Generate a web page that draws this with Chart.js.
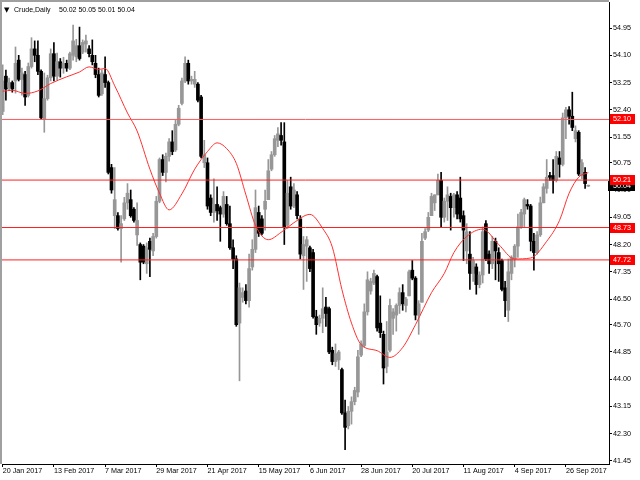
<!DOCTYPE html>
<html>
<head>
<meta charset="utf-8">
<script src="https://cdn.jsdelivr.net/npm/chart.js@4.4.0/dist/chart.umd.min.js"></script>
<style>
  html, body { margin: 0; padding: 0; background: #fff; }
  canvas { display: block; }
</style>
</head>
<body>
<canvas id="chart" width="640" height="480"></canvas>
<script>
// Crude, daily bars 20 Jan 2017 .. 5 Oct 2017
const symbolName = 'Crude,Daily';

const opens = [
  52.35, 53.45, 53.10, 53.25, 53.30, 53.95, 53.35, 53.50, 52.85, 53.75,
  54.30, 54.10, 53.60, 52.10, 52.75, 53.40, 54.15, 53.45, 53.90, 53.70,
  53.85, 53.70, 54.10, 54.05, 54.40, 54.20, 54.45, 54.30, 54.10, 53.85,
  53.50, 52.90, 53.50, 53.25, 50.60, 49.10, 49.10, 48.70, 49.00, 49.50,
  49.60, 49.30, 48.50, 48.20, 48.15, 47.60, 48.30, 48.00, 48.45, 49.55,
  50.85, 50.45, 50.95, 51.40, 51.15, 51.95, 52.60, 53.30, 53.85, 53.30,
  53.20, 53.20, 52.80, 50.75, 50.75, 49.65, 49.20, 49.45, 49.35, 49.15,
  49.45, 48.85, 48.10, 47.75, 45.75, 46.55, 46.75, 46.45, 47.50, 48.05,
  49.20, 49.00, 49.30, 49.60, 50.55, 51.00, 51.45, 51.60, 51.40, 48.80,
  50.00, 49.40, 49.75, 49.00, 47.85, 48.15, 48.10, 47.95, 45.95, 45.75,
  45.90, 46.25, 46.20, 44.90, 44.55, 44.60, 44.30, 42.95, 42.55, 43.00,
  43.30, 43.60, 44.75, 45.05, 46.10, 46.75, 47.00, 47.20, 45.75, 45.40,
  44.40, 44.90, 45.90, 46.00, 46.30, 46.70, 46.30, 46.60, 47.40, 47.15,
  46.00, 46.40, 48.40, 48.65, 49.10, 49.50, 49.75, 50.20, 49.05, 49.55,
  49.70, 49.35, 49.75, 49.65, 49.10, 48.00, 47.90, 47.30, 47.50, 46.95,
  47.25, 48.85, 47.90, 47.60, 48.30, 47.95, 47.70, 46.85, 46.15, 47.30,
  47.75, 48.15, 48.75, 49.15, 49.45, 49.40, 48.30, 47.95, 48.50, 49.50,
  49.95, 50.35, 50.35, 50.20, 50.90, 50.70, 52.15, 52.40, 52.20, 51.50,
  51.70, 50.35, 50.45, 50.02
];
const highs = [
  53.80, 53.64, 53.39, 53.30, 54.36, 54.10, 53.70, 53.60, 53.86, 54.65,
  54.55, 54.55, 53.65, 53.55, 53.48, 54.30, 54.50, 54.17, 54.00, 54.04,
  53.95, 54.20, 55.04, 54.60, 54.98, 54.58, 54.73, 54.40, 54.58, 54.10,
  53.70, 53.65, 54.05, 53.30, 50.70, 50.60, 49.20, 49.10, 49.67, 50.10,
  49.90, 49.35, 49.50, 48.25, 48.20, 48.25, 48.40, 48.55, 49.70, 50.90,
  51.00, 51.05, 51.50, 51.75, 52.08, 52.54, 53.39, 54.05, 53.95, 53.45,
  53.60, 53.25, 52.85, 51.45, 50.90, 49.75, 50.25, 50.00, 49.40, 49.85,
  49.70, 49.40, 48.35, 47.85, 47.00, 46.85, 46.95, 47.90, 48.35, 49.90,
  49.40, 49.10, 49.90, 50.85, 51.10, 51.60, 51.85, 52.00, 52.00, 50.20,
  50.30, 50.10, 49.85, 49.10, 48.45, 48.45, 48.15, 48.05, 46.15, 46.00,
  46.85, 46.55, 46.25, 45.00, 45.10, 44.90, 44.35, 43.35, 43.15, 43.45,
  43.75, 44.90, 45.20, 46.35, 47.35, 47.15, 47.40, 47.25, 46.60, 45.50,
  45.80, 46.50, 46.20, 46.35, 46.85, 46.95, 46.55, 47.40, 47.70, 47.20,
  46.45, 48.55, 48.70, 49.20, 49.80, 49.75, 50.40, 50.45, 49.65, 50.00,
  49.80, 49.80, 49.85, 50.30, 49.25, 48.85, 48.60, 47.80, 47.60, 47.35,
  48.75, 48.95, 48.00, 48.45, 48.40, 48.10, 47.75, 47.05, 47.75, 47.85,
  48.20, 49.15, 49.30, 49.65, 49.60, 49.45, 48.55, 48.60, 49.68, 50.10,
  50.85, 50.45, 50.85, 51.10, 51.10, 52.30, 52.48, 52.50, 52.95, 51.90,
  51.75, 50.85, 50.60, 50.05
];
const lows = [
  52.25, 52.70, 53.00, 52.95, 52.92, 53.30, 52.86, 52.54, 52.80, 53.70,
  53.90, 53.50, 52.10, 51.70, 52.70, 53.30, 53.30, 53.33, 53.42, 53.54,
  53.60, 53.65, 53.95, 53.90, 53.95, 54.15, 54.20, 54.05, 53.80, 53.40,
  52.80, 52.85, 53.10, 50.40, 49.80, 48.70, 48.65, 47.65, 48.95, 49.30,
  49.05, 48.90, 48.17, 47.10, 47.60, 47.30, 47.20, 47.85, 48.40, 49.50,
  50.35, 50.15, 50.80, 51.00, 51.10, 51.90, 52.55, 53.25, 53.20, 53.20,
  53.10, 52.65, 50.90, 50.60, 49.30, 49.10, 48.90, 48.95, 48.30, 49.05,
  48.80, 48.05, 47.45, 45.65, 43.95, 46.40, 46.35, 46.25, 47.40, 47.95,
  48.45, 48.50, 48.65, 49.60, 50.50, 50.95, 51.25, 51.30, 48.20, 48.70,
  49.30, 49.35, 49.00, 47.75, 46.80, 47.05, 47.35, 45.90, 45.40, 45.65,
  45.45, 45.65, 44.80, 44.45, 44.40, 44.30, 42.90, 41.80, 42.45, 42.60,
  43.20, 43.45, 44.70, 45.00, 46.00, 46.65, 46.95, 45.50, 45.30, 43.85,
  44.20, 44.85, 45.40, 45.50, 46.05, 46.15, 46.10, 46.60, 47.10, 45.85,
  45.40, 46.40, 48.35, 48.60, 49.10, 49.26, 49.75, 48.75, 48.90, 48.95,
  48.65, 49.05, 49.00, 48.90, 47.70, 47.60, 46.80, 47.05, 46.65, 46.85,
  47.00, 47.70, 47.30, 47.45, 47.10, 47.05, 46.75, 45.95, 45.80, 47.10,
  47.50, 47.80, 48.70, 48.75, 49.30, 48.00, 47.40, 47.90, 48.45, 49.50,
  49.80, 50.20, 49.80, 50.15, 50.30, 50.65, 51.50, 51.95, 51.75, 51.40,
  50.35, 50.25, 49.95, 50.01
];
const closes = [
  53.30, 53.05, 53.25, 53.05, 53.85, 53.35, 53.55, 52.80, 53.75, 54.30,
  54.10, 53.60, 52.15, 52.75, 53.40, 54.15, 53.45, 53.90, 53.70, 53.85,
  53.70, 54.15, 54.55, 54.40, 54.00, 54.50, 54.55, 54.15, 53.90, 53.50,
  52.85, 53.55, 53.25, 50.45, 49.90, 49.60, 48.70, 48.85, 49.50, 49.80,
  49.10, 48.95, 48.95, 47.65, 47.65, 48.10, 48.05, 48.45, 49.55, 50.85,
  50.45, 50.95, 51.40, 51.10, 51.95, 52.45, 53.30, 53.85, 53.30, 53.35,
  53.35, 52.70, 50.95, 51.00, 49.40, 49.20, 49.45, 49.25, 49.15, 49.70,
  48.85, 48.10, 47.75, 45.70, 46.85, 46.70, 46.45, 47.45, 48.05, 49.35,
  48.55, 48.55, 49.55, 50.50, 51.00, 51.50, 51.65, 51.45, 48.75, 49.80,
  49.40, 49.90, 49.10, 47.90, 48.20, 48.35, 47.45, 45.95, 45.70, 45.90,
  46.20, 46.05, 44.85, 44.55, 44.80, 44.85, 42.95, 42.50, 43.00, 43.30,
  43.65, 44.70, 45.10, 46.10, 47.10, 47.05, 47.30, 45.60, 45.45, 44.35,
  44.85, 46.30, 46.10, 46.30, 46.70, 46.35, 46.50, 47.35, 47.15, 46.00,
  46.35, 48.30, 48.60, 49.05, 49.70, 49.75, 50.20, 49.05, 49.55, 49.75,
  49.35, 49.75, 49.15, 49.00, 48.65, 48.60, 47.30, 47.70, 46.95, 47.25,
  48.60, 47.75, 47.60, 48.30, 48.00, 47.60, 46.80, 46.45, 47.35, 47.80,
  48.15, 48.75, 49.20, 49.60, 49.40, 48.30, 47.95, 48.50, 49.50, 50.00,
  50.30, 50.30, 50.20, 50.95, 50.70, 52.15, 52.40, 52.20, 51.85, 51.75,
  50.40, 50.75, 50.10, 50.04
];

// red moving average, sampled at these bars
const maBars = [0, 3, 7, 11, 15, 20, 24, 27, 30, 32, 35, 39, 42, 46, 49, 52, 56, 60, 64, 67,
  70, 73, 76, 79, 83, 87, 91, 96, 100, 103, 106, 109, 112, 117, 121, 125, 129, 134, 138, 141,
  145, 150, 155, 160, 165, 170, 174, 177, 180, 183];
const maValues = [52.98, 53.01, 52.91, 52.99, 53.22, 53.43, 53.58, 53.74, 53.66, 53.69,
  53.15, 52.30, 51.74, 50.55, 49.80, 49.28, 49.78, 50.55, 51.10, 51.37,
  51.19, 50.73, 49.75, 48.80, 48.35, 48.58, 48.88, 49.14, 48.70, 48.12,
  46.80, 45.75, 45.08, 44.89, 44.68, 44.99, 45.70, 46.70, 47.30, 47.95,
  48.45, 48.68, 48.20, 47.75, 47.78, 48.30, 48.95, 49.80, 50.30, 50.44];

// horizontal levels
const levels = [52.10, 50.21, 48.73, 47.72];
const levelColors = ['#ff5a5a', '#ff2020', '#ff2020', '#ff2020'];

const priceTicks = [41.45, 42.30, 43.15, 44.00, 44.85, 45.70, 46.50, 47.35, 48.20,
  49.05, 49.90, 50.75, 51.55, 52.40, 53.25, 54.10, 54.95];
const tickBars = [0, 16, 32, 48, 64, 80, 96, 112, 128, 144, 160, 176];
const tickLabels = ['20 Jan 2017', '13 Feb 2017', '7 Mar 2017', '29 Mar 2017', '21 Apr 2017',
  '15 May 2017', '6 Jun 2017', '28 Jun 2017', '20 Jul 2017', '11 Aug 2017', '4 Sep 2017', '26 Sep 2017'];

const X_MIN = -0.21875, X_MAX = 189.46875;
const Y_MIN = 41.35625, Y_MAX = 55.7625;

const BULL = '#979797';
const BEAR = '#000000';
const FONT = "'Liberation Sans', Arial, sans-serif";

Chart.defaults.font.family = FONT;
Chart.defaults.font.size = 7.2;
Chart.defaults.color = '#000';

const n = closes.length;
const isBull = closes.map((c, i) => c >= opens[i]);

const wickData = highs.map((h, i) => ({ x: i, y: [lows[i], h] }));
const bodyData = opens.map((o, i) => ({ x: i, y: [Math.min(o, closes[i]), Math.max(o, closes[i])] }));
const maData = maBars.map((b, k) => ({ x: b, y: maValues[k] }));

const levelSets = levels.map((v, k) => ({
  type: 'line',
  data: [{ x: X_MIN, y: v }, { x: X_MAX, y: v }],
  borderColor: levelColors[k],
  borderWidth: 1,
  pointRadius: 0,
  order: 0
}));

const decor = {
  id: 'decor',
  afterDraw(chart) {
    const ctx = chart.ctx;
    const area = chart.chartArea;
    const ys = chart.scales.y;
    ctx.save();

    // window frame, top and left
    ctx.fillStyle = '#a0a0a0';
    ctx.fillRect(0, 0, area.right, 2);
    ctx.fillRect(0, 0, 2, area.bottom);

    // title line
    ctx.fillStyle = '#000';
    ctx.textBaseline = 'middle';
    ctx.textAlign = 'left';
    ctx.font = "7px 'DejaVu Sans'";
    ctx.fillText('▼', 4, 10);
    ctx.font = '7px ' + FONT;
    ctx.fillText(symbolName, 14, 10);
    const ohlc = [opens[n - 1], highs[n - 1], lows[n - 1], closes[n - 1]].map(v => v.toFixed(2)).join(' ');
    ctx.fillText(ohlc, 59, 10);

    // price tags on the right axis
    ctx.font = '7.2px ' + FONT;
    ctx.textAlign = 'center';
    const tag = (v, bg, x0) => {
      const py = Math.round(ys.getPixelForValue(v));
      ctx.fillStyle = bg;
      ctx.fillRect(x0, py - 5, 635 - x0, 10);
      ctx.fillStyle = '#fff';
      ctx.fillText(v.toFixed(2), 622, py + 0.5);
    };
    tag(closes[n - 1], '#000', area.right - 1);
    levels.forEach(v => tag(v, '#ff0000', area.right + 1));
    ctx.restore();
  }
};

new Chart(document.getElementById('chart'), {
  type: 'bar',
  data: {
    datasets: [
      ...levelSets,
      {
        type: 'line',
        data: maData,
        borderColor: '#ff3030',
        borderWidth: 1,
        pointRadius: 0,
        cubicInterpolationMode: 'monotone',
        order: 1
      },
      {
        type: 'bar',
        data: bodyData,
        backgroundColor: isBull.map(b => b ? BULL : BEAR),
        borderWidth: 0,
        barThickness: 3,
        minBarLength: 1,
        grouped: false,
        order: 2
      },
      {
        type: 'bar',
        data: wickData,
        backgroundColor: isBull.map(b => b ? BULL : BEAR),
        borderWidth: 0,
        barThickness: 1,
        minBarLength: 1,
        grouped: false,
        order: 3
      }
    ]
  },
  options: {
    responsive: false,
    animation: false,
    devicePixelRatio: 1,
    layout: { padding: { left: 2, top: 2, right: 0, bottom: 0 } },
    plugins: { legend: { display: false }, tooltip: { enabled: false } },
    scales: {
      x: {
        type: 'linear',
        min: X_MIN,
        max: X_MAX,
        offset: false,
        grid: { drawOnChartArea: false, drawTicks: true, tickLength: 3, color: '#000', offset: false },
        border: { display: true, color: '#000', width: 1 },
        afterBuildTicks: s => { s.ticks = tickBars.map(v => ({ value: v })); },
        afterFit: s => { s.height = 16; },
        ticks: {
          autoSkip: false,
          maxRotation: 0,
          minRotation: 0,
          align: 'start',
          padding: 0,
          callback: v => tickLabels[tickBars.indexOf(v)]
        }
      },
      y: {
        position: 'right',
        min: Y_MIN,
        max: Y_MAX,
        grid: { drawOnChartArea: false, drawTicks: true, tickLength: 3, color: '#000' },
        border: { display: true, color: '#000', width: 1 },
        afterBuildTicks: s => { s.ticks = priceTicks.map(v => ({ value: v })); },
        afterFit: s => { s.width = 31; s.paddingTop = 0; s.paddingBottom = 0; },
        ticks: { padding: 1, callback: v => v.toFixed(2) }
      }
    }
  },
  plugins: [decor]
});
</script>
</body>
</html>
